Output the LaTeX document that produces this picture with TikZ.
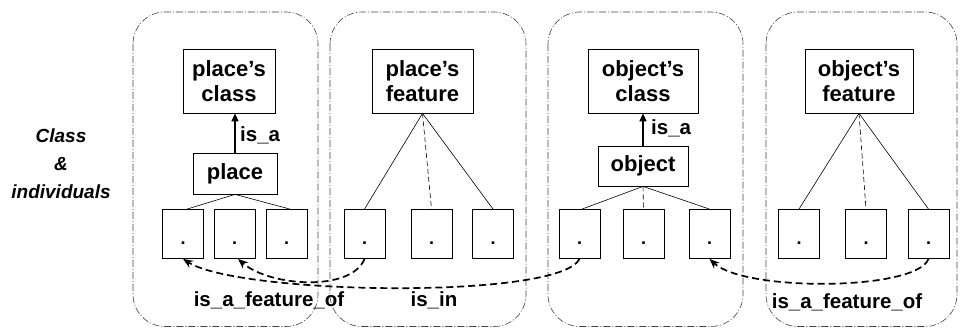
\documentclass[tikz,border=0pt]{standalone}
\usepackage{fontspec}
\setmainfont{Liberation Sans}
\usetikzlibrary{arrows.meta}
\begin{document}
\begin{tikzpicture}[x=1pt,y=-1pt,
  panel/.style={draw=black!75, line width=0.6pt,
    dash pattern=on 7pt off 2pt on 1pt off 2pt, rounded corners=32pt},
  cls/.style={draw, line width=0.8pt, minimum height=64pt, align=center,
    inner sep=0pt, font=\bfseries\fontsize{22}{25}\selectfont},
  inst/.style={draw, line width=0.8pt, minimum height=41pt, inner sep=0pt,
    font=\bfseries\fontsize{22}{25}\selectfont},
  indiv/.style={draw, line width=0.8pt, minimum width=41pt, minimum height=49pt,
    inner sep=0pt, text height=21pt, text depth=0pt,
    font=\bfseries\fontsize{18}{18}\selectfont},
  lbl/.style={font=\bfseries\fontsize{20.5}{22}\selectfont, inner sep=0pt},
  tree/.style={line width=0.6pt},
  treedash/.style={line width=0.6pt, dash pattern=on 5pt off 3pt},
  isa/.style={line width=1.5pt, -{Triangle[length=8pt,width=7pt]}},
  rel/.style={line width=1.7pt, dash pattern=on 7pt off 4pt,
    -{Stealth[length=10pt,width=8pt]}}
]
\useasboundingbox (0,0) rectangle (960,328);

% side heading
\node[font=\bfseries\itshape\fontsize{19}{28}\selectfont, align=center]
  (hdr) at (61,164) {Class\\\&\\individuals};

% the four groups
\draw[panel] (133,12) rectangle (318,326.5);
\draw[panel] (330,12) rectangle (526,326.5);
\draw[panel] (548,12) rectangle (743,326.5);
\draw[panel] (766,12) rectangle (957,326.5);

% class and feature boxes
\node[cls, minimum width=92pt]  (pclass) at (229,81)   {place’s\\class};
\node[cls, minimum width=101pt] (pfeat)  at (422.5,81) {place’s\\feature};
\node[cls, minimum width=110pt] (oclass) at (643,81)   {object’s\\class};
\node[cls, minimum width=108pt] (ofeat)  at (859,81)   {object’s\\feature};

\node[inst, minimum width=84pt] (place)  at (235,173.5) {place};
\node[inst, minimum width=90pt, minimum height=40pt] (object) at (643,166) {object};

% individuals
\node[indiv] (a1) at (183,234)   {.};
\node[indiv] (a2) at (234.5,234) {.};
\node[indiv] (a3) at (286.5,234) {.};
\node[indiv] (b1) at (364.5,234) {.};
\node[indiv] (b2) at (431.5,234) {.};
\node[indiv] (b3) at (493,234)   {.};
\node[indiv] (c1) at (579.5,234) {.};
\node[indiv] (c2) at (643.5,234) {.};
\node[indiv] (c3) at (709.5,234) {.};
\node[indiv] (d1) at (799,234)   {.};
\node[indiv] (d2) at (866,234)   {.};
\node[indiv] (d3) at (928.5,234) {.};

% is_a links
\draw[isa] (place.north) -- (place.north |- pclass.south);
\draw[isa] (object.north) -- (oclass.south);
\node[lbl, anchor=west] (isa1) at (240,135) {is\_a};
\node[lbl, anchor=west] (isa2) at (651,128) {is\_a};

% trees down to the individuals
\draw[tree] (place.south) -- ([xshift=4pt]a1.north);
\draw[tree] (place.south) -- ([xshift=3.5pt]a3.north);

\draw[tree]     (pfeat.south) -- (b1.north);
\draw[treedash] (pfeat.south) -- (b2.north);
\draw[tree]     (pfeat.south) -- (b3.north);

\draw[tree]     (object.south) -- ([xshift=2.5pt]c1.north);
\draw[treedash] (object.south) -- (c2.north);
\draw[tree]     (object.south) -- (c3.north);

\draw[tree]     (ofeat.south) -- (d1.north);
\draw[treedash] (ofeat.south) -- (d2.north);
\draw[tree]     (ofeat.south) -- (d3.north);

% relations between individuals
\draw[rel] (b1.south) .. controls +(-13,33) and +(32,28) .. ([xshift=3.5pt]a2.south);
\draw[rel] (c1.south) .. controls +(-20,41) and +(56,36) .. (a1.south);
\draw[rel] (d3.south) .. controls +(-12,32) and +(35,33) .. (c3.south);

\node[lbl] (f1)  at (269,300) {is\_a\_feature\_of};
\node[lbl] (in)  at (434,300) {is\_in};
\node[lbl] (f2)  at (847,302) {is\_a\_feature\_of};
\end{tikzpicture}
\end{document}
